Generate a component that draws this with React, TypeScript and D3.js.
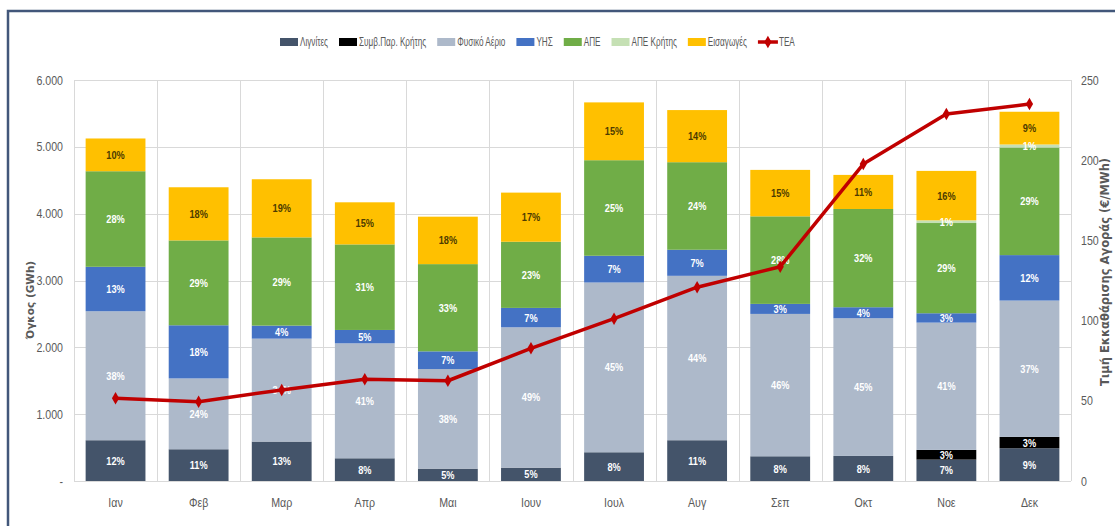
import React, { useRef, useEffect } from 'react';
import * as d3 from 'd3';

const months = ['Ιαν', 'Φεβ', 'Μαρ', 'Απρ', 'Μαι', 'Ιουν', 'Ιουλ', 'Αυγ', 'Σεπ', 'Οκτ', 'Νοε', 'Δεκ'];

// GWh per source
const lignite = [610, 475, 590, 340, 185, 200, 430, 610, 370, 375, 320, 490];
const creteThermal = [0, 0, 0, 0, 0, 0, 0, 0, 0, 0, 145, 170];
const naturalGas = [1930, 1060, 1540, 1720, 1490, 2100, 2540, 2460, 2130, 2060, 1905, 2040];
const hydro = [665, 795, 195, 200, 265, 290, 400, 390, 150, 165, 140, 680];
const renewables = [1430, 1270, 1320, 1280, 1305, 990, 1430, 1310, 1310, 1470, 1350, 1610];
const renewablesCrete = [0, 0, 0, 0, 0, 0, 0, 0, 0, 0, 40, 45];
const imports = [490, 795, 870, 630, 710, 735, 865, 780, 695, 510, 740, 490];

// market clearing price, €/MWh
const dam = [51.6, 49.4, 56.8, 63.4, 62.5, 82.7, 101.2, 120.8, 133.6, 197.6, 228.8, 235.0];

const leftTicks = [0, 1000, 2000, 3000, 4000, 5000, 6000];
const rightTicks = [0, 50, 100, 150, 200, 250];

const series = [
  { key: 'Λιγνίτες', values: lignite, color: '#44546A', text: '#ffffff' },
  { key: 'Συμβ.Παρ. Κρήτης', values: creteThermal, color: '#000000', text: '#ffffff' },
  { key: 'Φυσικό Αέριο', values: naturalGas, color: '#ADB9CA', text: '#ffffff' },
  { key: 'ΥΗΣ', values: hydro, color: '#4472C4', text: '#ffffff' },
  { key: 'ΑΠΕ', values: renewables, color: '#70AD47', text: '#ffffff' },
  { key: 'ΑΠΕ Κρήτης', values: renewablesCrete, color: '#C5E0B4', text: '#ffffff' },
  { key: 'Εισαγωγές', values: imports, color: '#FFC000', text: '#4D3B00' }
];
const lineName = 'ΤΕΑ';
const lineColor = '#C00000';

const font = "'Liberation Sans', Arial, sans-serif";
const squeeze = 0.8; // the original uses a condensed face

const Chart: React.FC = () => {
  const svgRef = useRef<SVGSVGElement>(null);

  useEffect(() => {
    if (!svgRef.current) return;
    const svg = d3.select(svgRef.current);
    svg.selectAll('*').remove();

    const left = 74, right = 1071, top = 80, bottom = 481;

    const x = d3.scaleBand().domain(months).range([left, right]).paddingInner(0.28).paddingOuter(0.14);
    const y = d3.scaleLinear().domain([0, 6000]).range([bottom, top]);
    const y2 = d3.scaleLinear().domain([0, 250]).range([bottom, top]);
    const step = x.step();
    const gap = (step - x.bandwidth()) / 2;

    // frame
    svg.append('rect')
      .attr('x', 8).attr('y', 11).attr('width', 1140).attr('height', 560)
      .attr('fill', 'none').attr('stroke', '#42577A').attr('stroke-width', 2.5);

    // grid
    const grid = svg.append('g').attr('stroke', '#D9D9D9').attr('stroke-width', 1);
    grid.selectAll('line.h').data(leftTicks).enter().append('line')
      .attr('x1', left).attr('x2', right)
      .attr('y1', d => Math.round(y(d)) + 0.5).attr('y2', d => Math.round(y(d)) + 0.5);
    grid.selectAll('line.v').data(d3.range(months.length + 1)).enter().append('line')
      .attr('x1', i => Math.round((x(months[0]) || 0) - gap + i * step) + 0.5)
      .attr('x2', i => Math.round((x(months[0]) || 0) - gap + i * step) + 0.5)
      .attr('y1', top).attr('y2', bottom);

    // stacked bars
    const rows = months.map((m, i) => {
      const r: any = { month: m };
      series.forEach(s => { r[s.key] = s.values[i]; });
      return r;
    });
    const totals = months.map((_, i) => d3.sum(series, s => s.values[i]));
    const stacked = d3.stack<any>().keys(series.map(s => s.key))(rows);

    const layers = svg.append('g').selectAll('g').data(stacked).enter().append('g')
      .attr('fill', (_, i) => series[i].color);
    layers.selectAll('rect').data(d => d).enter().append('rect')
      .attr('x', d => x(d.data.month) || 0)
      .attr('width', x.bandwidth())
      .attr('y', d => y(d[1]))
      .attr('height', d => y(d[0]) - y(d[1]));

    // percent labels
    stacked.forEach((layer, si) => {
      svg.append('g').selectAll('text')
        .data(layer.map((d, i) => ({ d, i })).filter(o => o.d[1] - o.d[0] > 0))
        .enter().append('text')
        .attr('transform', o =>
          `translate(${(x(o.d.data.month) || 0) + x.bandwidth() / 2},${(y(o.d[0]) + y(o.d[1])) / 2}) scale(${squeeze},1)`)
        .attr('dy', '0.35em')
        .attr('text-anchor', 'middle')
        .attr('font-family', font)
        .attr('font-weight', 'bold')
        .attr('font-size', 11.5)
        .attr('fill', series[si].text)
        .text(o => `${Math.round(((o.d[1] - o.d[0]) / totals[o.i]) * 100)}%`);
    });

    // price line
    const line = d3.line<number>()
      .x((_, i) => (x(months[i]) || 0) + x.bandwidth() / 2)
      .y(d => y2(d));
    svg.append('path').datum(dam)
      .attr('d', line)
      .attr('fill', 'none')
      .attr('stroke', lineColor)
      .attr('stroke-width', 3.5)
      .attr('stroke-linejoin', 'round');
    svg.append('g').selectAll('path').data(dam).enter().append('path')
      .attr('d', d3.symbol(d3.symbolDiamond, 45))
      .attr('transform', (d, i) => `translate(${(x(months[i]) || 0) + x.bandwidth() / 2},${y2(d)})`)
      .attr('fill', lineColor);

    // axes
    const tickSqueeze = 0.85;
    const leftAxis = svg.append('g')
      .attr('transform', `translate(${left},0)`)
      .call(d3.axisLeft(y).tickValues(leftTicks).tickSize(0).tickPadding(11)
        .tickFormat(d => (+d === 0 ? '-   ' : d3.format(',')(+d).replace(',', '.'))));
    leftAxis.selectAll('text').attr('x', -11 / tickSqueeze);
    const rightAxis = svg.append('g')
      .attr('transform', `translate(${right},0)`)
      .call(d3.axisRight(y2).tickValues(rightTicks).tickSize(0).tickPadding(10));
    rightAxis.selectAll('text').attr('x', 10 / tickSqueeze);
    const bottomAxis = svg.append('g')
      .attr('transform', `translate(0,${bottom})`)
      .call(d3.axisBottom(x).tickSize(0).tickPadding(17));
    [leftAxis, rightAxis, bottomAxis].forEach(a => {
      a.select('.domain').remove();
      a.selectAll('text')
        .attr('font-family', font).attr('font-size', 12.5).attr('fill', '#595959')
        .attr('transform', `scale(${tickSqueeze},1)`);
    });
    bottomAxis.selectAll('.tick').each(function () {
      const g = d3.select(this);
      const tx = +(g.attr('transform').match(/translate\(([-\d.]+)/) || [0, 0])[1];
      g.attr('transform', `translate(0,0)`);
      g.select('text').attr('x', tx / tickSqueeze);
    });
    svg.append('line')
      .attr('x1', left).attr('x2', right).attr('y1', bottom + 0.5).attr('y2', bottom + 0.5)
      .attr('stroke', '#D9D9D9');

    // axis titles
    svg.append('text')
      .attr('transform', `translate(34,300) rotate(-90)`)
      .attr('text-anchor', 'middle')
      .attr('font-family', "'DejaVu Sans', sans-serif")
      .attr('font-weight', 'bold')
      .attr('font-size', 10.5)
      .attr('fill', '#595959')
      .text('Όγκος (GWh)');
    svg.append('text')
      .attr('transform', `translate(1109,272) rotate(-90)`)
      .attr('text-anchor', 'middle')
      .attr('font-family', "'DejaVu Sans', sans-serif")
      .attr('font-weight', 'bold')
      .attr('font-size', 11.5)
      .attr('fill', '#595959')
      .text('Τιμή Εκκαθάρισης Αγοράς (€/MWh)');

    // legend
    const legSqueeze = 0.68;
    const legend = svg.append('g').attr('font-family', font).attr('font-size', 12).attr('fill', '#595959');
    let lx = 280;
    const ly = 42;
    const legText = (px: number, label: string) => {
      const t = legend.append('text')
        .attr('transform', `translate(${px},${ly}) scale(${legSqueeze},1)`)
        .attr('dy', '0.35em').text(label);
      return (t.node() as SVGTextElement).getComputedTextLength() * legSqueeze;
    };
    series.forEach(s => {
      legend.append('rect').attr('x', lx).attr('y', ly - 4).attr('width', 18).attr('height', 8).attr('fill', s.color);
      const w = legText(lx + 20, s.key);
      lx += 20 + w + 11;
    });
    legend.append('line').attr('x1', lx).attr('x2', lx + 20).attr('y1', ly).attr('y2', ly)
      .attr('stroke', lineColor).attr('stroke-width', 3.5);
    legend.append('path').attr('d', d3.symbol(d3.symbolDiamond, 45))
      .attr('transform', `translate(${lx + 10},${ly})`).attr('fill', lineColor);
    legText(lx + 21, lineName);
  }, []);

  return (
    <svg ref={svgRef} width="1115" height="526" style={{ position: 'absolute', left: 0, top: 0, background: '#fff' }}></svg>
  );
};

export default function App() {
  return <Chart />;
}
